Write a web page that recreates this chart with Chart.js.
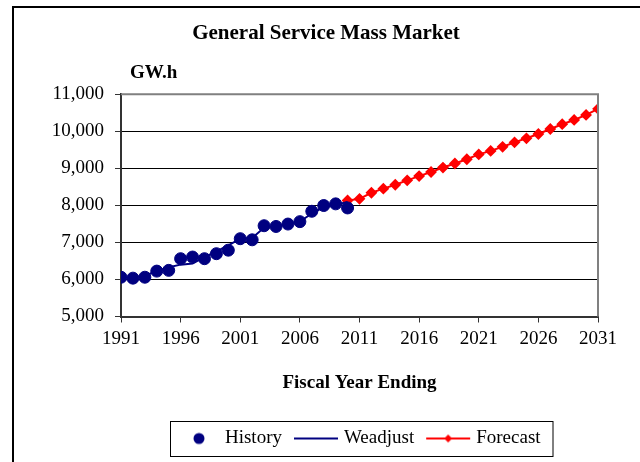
<!DOCTYPE html>
<html>
<head>
<meta charset="utf-8">
<script src="https://cdn.jsdelivr.net/npm/chart.js@4.4.1/dist/chart.umd.min.js"></script>
<style>
  html, body { margin: 0; padding: 0; background: #fff; }
  #wrap { width: 640px; height: 462px; }
</style>
</head>
<body>
<div id="wrap"><canvas id="chart"></canvas></div>
<script>
// --- data ---
var historyYears = [1991, 1992, 1993, 1994, 1995, 1996, 1997, 1998, 1999, 2000,
                    2001, 2002, 2003, 2004, 2005, 2006, 2007, 2008, 2009, 2010];
var historyValues = [6060, 6035, 6060, 6225, 6245, 6560, 6605, 6560, 6695, 6790,
                     7100, 7070, 7450, 7430, 7495, 7560, 7840, 7995, 8040, 7930];
var weadjustValues = [6050, 6060, 6100, 6230, 6330, 6400, 6430, 6600, 6760, 6920,
                      7100, 7120, 7400, 7440, 7490, 7560, 7780, 7950, 8020, 8090];
var forecastYears = [2010, 2011, 2012, 2013, 2014, 2015, 2016, 2017, 2018, 2019, 2020,
                     2021, 2022, 2023, 2024, 2025, 2026, 2027, 2028, 2029, 2030, 2031];
var forecastValues = [8130, 8175, 8340, 8450, 8555, 8675, 8790, 8900, 9020, 9130, 9245,
                      9375, 9470, 9580, 9700, 9810, 9925, 10060, 10190, 10305, 10440, 10605];
var xTickYears = [1991, 1996, 2001, 2006, 2011, 2016, 2021, 2026, 2031];

var serif = '"Liberation Serif", "Times New Roman", serif';
var navy = '#000080';

function pairs(xs, ys) {
    return xs.map(function (x, i) { return { x: x, y: ys[i] }; });
}

// little canvases used as legend symbols
function makeIcon(kind) {
    var c = document.createElement('canvas');
    c.width = 46; c.height = 14;
    var g = c.getContext('2d');
    if (kind === 'dot') {
        g.fillStyle = navy;
        g.beginPath(); g.arc(25, 7, 5.5, 0, Math.PI * 2); g.fill();
    } else {
        g.strokeStyle = kind === 'line' ? navy : '#ff0000';
        g.lineWidth = 2;
        g.beginPath(); g.moveTo(1, 7); g.lineTo(45, 7); g.stroke();
        if (kind === 'diamond') {
            g.fillStyle = '#ff0000';
            g.beginPath();
            g.moveTo(23, 3); g.lineTo(27, 7); g.lineTo(23, 11); g.lineTo(19, 7);
            g.closePath(); g.fill();
        }
    }
    return c;
}
var legendIcons = [makeIcon('dot'), makeIcon('line'), makeIcon('diamond')];

var decor = {
    id: 'decor',
    afterDraw: function (chart) {
        var ctx = chart.ctx, a = chart.chartArea;
        ctx.save();
        // outer frame (top + left only visible)
        ctx.strokeStyle = '#000';
        ctx.lineWidth = 2;
        ctx.beginPath();
        ctx.moveTo(13, 470); ctx.lineTo(13, 7); ctx.lineTo(640, 7);
        ctx.stroke();
        // plot area border top/right
        ctx.strokeStyle = '#808080';
        ctx.lineWidth = 2;
        ctx.beginPath();
        ctx.moveTo(a.left, a.top); ctx.lineTo(a.right, a.top); ctx.lineTo(a.right, a.bottom);
        ctx.stroke();
        // unit label
        ctx.fillStyle = '#000';
        ctx.font = 'bold 19px ' + serif;
        ctx.textBaseline = 'middle';
        ctx.textAlign = 'left';
        ctx.fillText('GW.h', a.left + 9, a.top - 21);
        // legend box
        var hb = chart.legend.legendHitBoxes;
        if (hb && hb.length) {
            var first = hb[0], last = hb[hb.length - 1];
            var cy = first.top + first.height / 2;
            var bx = Math.round(first.left - 8.5) + 0.5;
            var bw = Math.round(last.left + last.width + 12) - bx;
            ctx.strokeStyle = '#000';
            ctx.lineWidth = 1;
            ctx.strokeRect(bx, Math.round(cy) - 17.5, bw, 35);
        }
        ctx.restore();
    }
};

new Chart(document.getElementById('chart'), {
    type: 'line',
    data: {
        datasets: [
            {
                label: 'History',
                data: pairs(historyYears, historyValues),
                showLine: false,
                pointRadius: 6,
                pointHoverRadius: 6,
                pointBackgroundColor: navy,
                pointBorderColor: navy,
                borderColor: navy
            },
            {
                label: 'Weadjust',
                data: pairs(historyYears, weadjustValues),
                borderColor: navy,
                borderWidth: 2,
                pointRadius: 0,
                tension: 0
            },
            {
                label: 'Forecast',
                data: pairs(forecastYears, forecastValues),
                borderColor: '#ff0000',
                backgroundColor: '#ff0000',
                borderWidth: 2,
                pointStyle: 'rectRot',
                pointRadius: 4.5,
                pointBackgroundColor: '#ff0000',
                pointBorderColor: '#ff0000',
                tension: 0
            }
        ]
    },
    options: {
        responsive: true,
        maintainAspectRatio: false,
        animation: false,
        layout: { padding: { left: 12, right: 0, top: 0, bottom: 4 } },
        plugins: {
            title: {
                display: true,
                text: 'General Service Mass Market',
                color: '#000',
                font: { family: serif, size: 21, weight: 'bold' },
                padding: { top: 21, bottom: 48 }
            },
            legend: {
                position: 'bottom',
                fullSize: false,
                labels: {
                    color: '#000',
                    font: { family: serif, size: 19 },
                    usePointStyle: true,
                    pointStyleWidth: 37,
                    padding: 15.5,
                    generateLabels: function (chart) {
                        var items = Chart.defaults.plugins.legend.labels.generateLabels(chart);
                        items.forEach(function (it, i) { it.pointStyle = legendIcons[i]; });
                        return items;
                    }
                }
            },
            tooltip: { enabled: false }
        },
        scales: {
            x: {
                type: 'linear',
                min: 1991,
                max: 2031,
                afterBuildTicks: function (axis) {
                    axis.ticks = xTickYears.map(function (v) { return { value: v }; });
                },
                afterFit: function (axis) { axis.height = 97; },
                ticks: {
                    color: '#000',
                    font: { family: serif, size: 19 },
                    padding: 5,
                    maxRotation: 0,
                    autoSkip: false,
                    callback: function (v) { return String(v); }
                },
                grid: { drawOnChartArea: false, tickLength: 6, color: '#333' },
                border: { color: '#333', width: 2 },
                title: {
                    display: true,
                    text: 'Fiscal Year Ending',
                    color: '#000',
                    font: { family: serif, size: 19, weight: 'bold' },
                    padding: { top: 14, bottom: 19 }
                }
            },
            y: {
                min: 5000,
                max: 11000,
                afterFit: function (axis) { axis.width = 109; },
                ticks: {
                    stepSize: 1000,
                    color: '#000',
                    font: { family: serif, size: 19 },
                    padding: 11,
                    callback: function (v) { return v.toLocaleString('en-US'); }
                },
                grid: { color: '#000', lineWidth: 1, tickLength: 6, tickColor: '#333' },
                border: { color: '#333', width: 2 }
            },
            // empty right-hand spacer so the plot ends where the reference's does
            yRight: {
                position: 'right',
                display: true,
                afterFit: function (axis) { axis.width = 42; },
                ticks: { display: false },
                grid: { display: false },
                border: { display: false }
            }
        }
    },
    plugins: [decor]
});
</script>
</body>
</html>
